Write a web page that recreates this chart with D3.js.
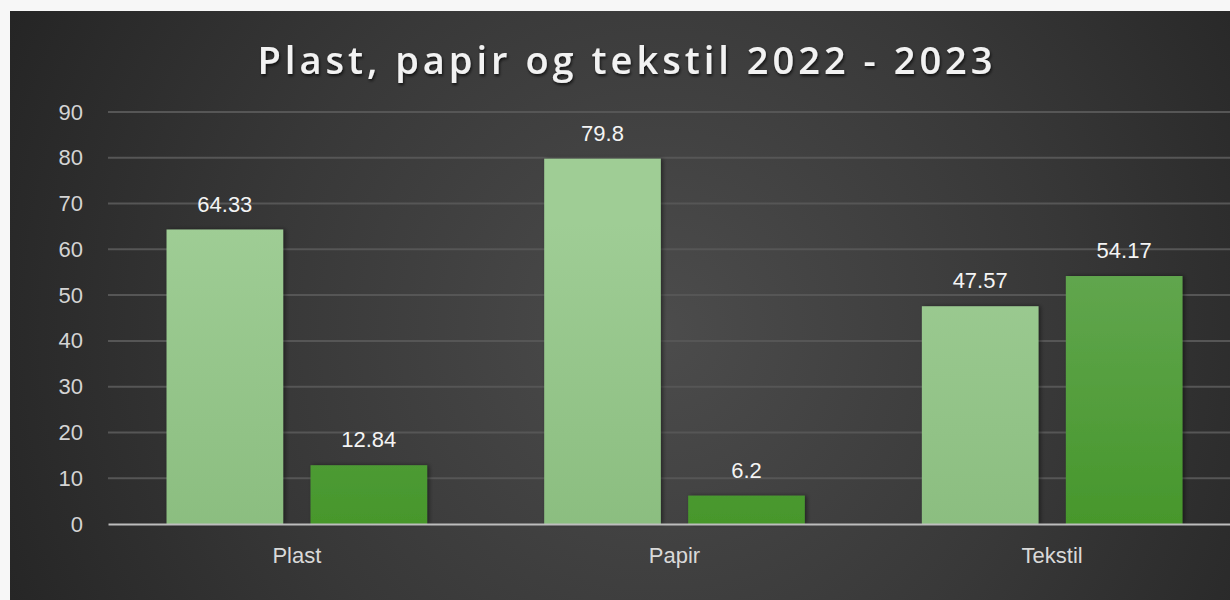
<!DOCTYPE html>
<html>
<head>
<meta charset="utf-8">
<script src="https://cdn.jsdelivr.net/npm/d3@7"></script>
<style>
  body { margin: 0; background: #f7f7f7; }
  svg { display: block; }
</style>
</head>
<body>
<div id="chart"></div>
<script>
var categories = ["Plast", "Papir", "Tekstil"];
var series = ["2022", "2023"];
var values2022 = [64.33, 79.8, 47.57];
var values2023 = [12.84, 6.2, 54.17];
var yTicks = [0, 10, 20, 30, 40, 50, 60, 70, 80, 90];

var W = 1230, H = 600;
var margin = {top: 112, right: -11, bottom: 76, left: 108},
    width = W - margin.left - margin.right,
    height = H - margin.top - margin.bottom;

var svg = d3.select("#chart").append("svg")
    .attr("width", W)
    .attr("height", H);

var defs = svg.append("defs");

// bakgrunn
var bg = defs.append("radialGradient")
    .attr("id", "bg")
    .attr("gradientUnits", "userSpaceOnUse")
    .attr("cx", 660).attr("cy", 330).attr("r", 720);
bg.append("stop").attr("offset", "0%").attr("stop-color", "#4c4c4c");
bg.append("stop").attr("offset", "55%").attr("stop-color", "#383838");
bg.append("stop").attr("offset", "100%").attr("stop-color", "#252525");

// stolpefarger
var g1 = defs.append("linearGradient")
    .attr("id", "g2022")
    .attr("gradientUnits", "userSpaceOnUse")
    .attr("x1", 0).attr("y1", margin.top).attr("x2", 0).attr("y2", margin.top + height);
g1.append("stop").attr("offset", "0%").attr("stop-color", "#9fcd95");
g1.append("stop").attr("offset", "100%").attr("stop-color", "#84b878");

var g2 = defs.append("linearGradient")
    .attr("id", "g2023")
    .attr("gradientUnits", "userSpaceOnUse")
    .attr("x1", 0).attr("y1", margin.top).attr("x2", 0).attr("y2", margin.top + height);
g2.append("stop").attr("offset", "0%").attr("stop-color", "#66a955");
g2.append("stop").attr("offset", "100%").attr("stop-color", "#3b901c");

var shadow = defs.append("filter").attr("id", "shadow")
    .attr("x", "-10%").attr("y", "-10%").attr("width", "130%").attr("height", "130%");
shadow.append("feDropShadow")
    .attr("dx", 2).attr("dy", 0).attr("stdDeviation", 2)
    .attr("flood-color", "#000").attr("flood-opacity", 0.45);

var tshadow = defs.append("filter").attr("id", "tshadow");
tshadow.append("feDropShadow")
    .attr("dx", 1).attr("dy", 2).attr("stdDeviation", 1.5)
    .attr("flood-color", "#000").attr("flood-opacity", 0.7);

svg.append("rect")
    .attr("x", 10).attr("y", 11)
    .attr("width", W - 10).attr("height", H - 11)
    .attr("fill", "url(#bg)");

// tittel
svg.append("text")
    .attr("x", 627)
    .attr("y", 74)
    .attr("text-anchor", "middle")
    .attr("filter", "url(#tshadow)")
    .style("font-family", "'Open Sans', sans-serif")
    .style("font-weight", "600")
    .style("font-size", "38px")
    .style("letter-spacing", "4px")
    .style("fill", "#f2f2f2")
    .text("Plast, papir og tekstil 2022 - 2023");

var chart = svg.append("g")
    .attr("transform", "translate(" + margin.left + "," + margin.top + ")");

var x0 = d3.scaleBand()
    .domain(categories)
    .range([0, width])
    .paddingInner(0.31)
    .paddingOuter(0.155);

var x1 = d3.scaleBand()
    .domain(series)
    .range([0, x0.bandwidth()])
    .paddingInner(0.19);

var y = d3.scaleLinear()
    .domain([0, 90])
    .range([height, 0]);

var color = {"2022": "url(#g2022)", "2023": "url(#g2023)"};

// rutenett
chart.append("g")
    .attr("class", "grid")
    .selectAll("line")
    .data(yTicks.slice(1))
    .enter().append("line")
    .attr("x1", 0).attr("x2", width)
    .attr("y1", function(d) { return y(d); })
    .attr("y2", function(d) { return y(d); })
    .attr("stroke", "#565656")
    .attr("stroke-width", 2);

var yAxis = chart.append("g")
    .attr("class", "y axis")
    .call(d3.axisLeft(y).tickValues(yTicks).tickSize(0).tickPadding(25));
yAxis.select(".domain").remove();
yAxis.selectAll("text")
    .style("font-family", "'Liberation Sans', Arial, sans-serif")
    .style("font-size", "22px")
    .style("fill", "#d4d4d4");

var rows = categories.map(function(c, i) {
    return {cat: c, vals: [
        {s: "2022", v: values2022[i]},
        {s: "2023", v: values2023[i]}
    ]};
});

var groups = chart.selectAll(".group")
    .data(rows)
    .enter().append("g")
    .attr("class", "group")
    .attr("transform", function(d) { return "translate(" + x0(d.cat) + ",0)"; });

groups.selectAll("rect")
    .data(function(d) { return d.vals; })
    .enter().append("rect")
    .attr("x", function(d) { return x1(d.s); })
    .attr("y", function(d) { return y(d.v); })
    .attr("width", x1.bandwidth())
    .attr("height", function(d) { return height - y(d.v); })
    .attr("fill", function(d) { return color[d.s]; })
    .attr("filter", "url(#shadow)");

groups.selectAll(".label")
    .data(function(d) { return d.vals; })
    .enter().append("text")
    .attr("class", "label")
    .attr("x", function(d) { return x1(d.s) + x1.bandwidth() / 2; })
    .attr("y", function(d) { return y(d.v) - 18; })
    .attr("text-anchor", "middle")
    .style("font-family", "'Liberation Sans', Arial, sans-serif")
    .style("font-size", "22px")
    .style("fill", "#f4f4f4")
    .text(function(d) { return d.v; });

// x-akse
var xAxis = chart.append("g")
    .attr("class", "x axis")
    .attr("transform", "translate(0," + height + ")")
    .call(d3.axisBottom(x0).tickSize(0).tickPadding(23));
xAxis.select(".domain")
    .attr("stroke", "#bdbdbd")
    .attr("stroke-width", 2);
xAxis.selectAll("text")
    .style("font-family", "'Liberation Sans', Arial, sans-serif")
    .style("font-size", "22px")
    .style("fill", "#d9d9d9");
</script>
</body>
</html>
